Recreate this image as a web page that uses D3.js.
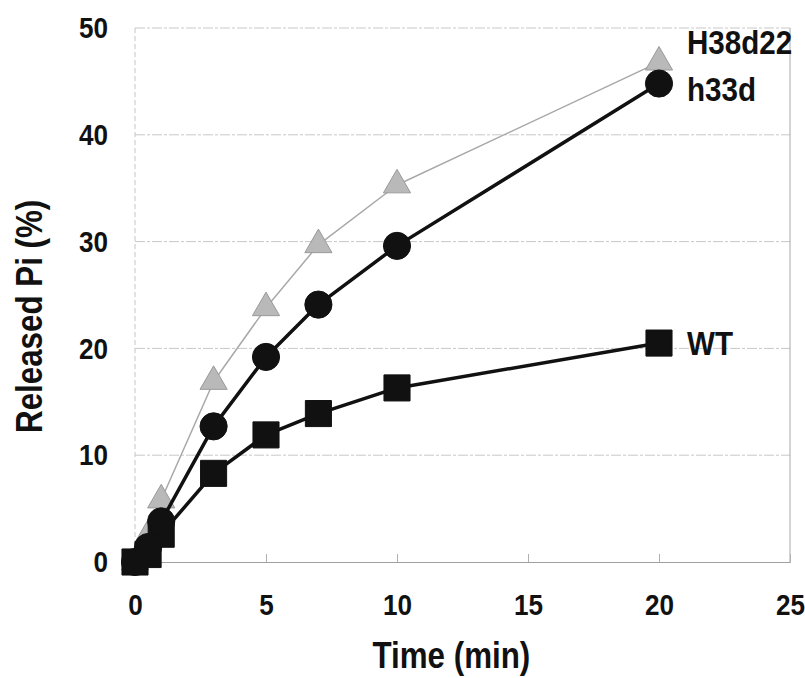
<!DOCTYPE html>
<html>
<head>
<meta charset="utf-8">
<script src="https://cdn.jsdelivr.net/npm/d3@7"></script>
<style>
  html, body { margin: 0; padding: 0; background: #fff; }
  svg { display: block; }
  text { font-family: "Liberation Sans", Arial, sans-serif; font-weight: bold; fill: #111; }
</style>
</head>
<body>
<svg id="chart" width="805" height="678"></svg>
<script>
// ---- data ----
const times = [0, 0.5, 1, 3, 5, 7, 10, 20];
const h38d22 = [0, 2.5, 5.8, 16.9, 23.8, 29.7, 35.3, 46.8];
const h33d = [0, 1.4, 3.8, 12.7, 19.2, 24.1, 29.6, 44.8];
const wt = [0, 0.7, 2.6, 8.3, 11.9, 13.9, 16.3, 20.5];
const seriesNames = ["H38d22", "h33d", "WT"];
const xTicks = [0, 5, 10, 15, 20, 25];
const yTicks = [0, 10, 20, 30, 40, 50];
const xTitle = "Time (min)";
const yTitle = "Released Pi (%)";

// ---- layout ----
const W = 805, H = 678;
const margin = { top: 28, right: 15, bottom: 116, left: 135 };
const iw = W - margin.left - margin.right;
const ih = H - margin.top - margin.bottom;
const K = 0.87; // horizontal condensing of the typeface

const svg = d3.select("#chart");
const g = svg.append("g").attr("transform", `translate(${margin.left},${margin.top})`);

const x = d3.scaleLinear().domain([0, 25]).range([0, iw]);
const y = d3.scaleLinear().domain([0, 50]).range([ih, 0]);

function condense(sel, k) {
  sel.each(function () {
    const t = d3.select(this);
    const tx = +t.attr("x") || 0, ty = +t.attr("y") || 0;
    t.attr("x", 0).attr("y", 0).attr("transform", `translate(${tx},${ty}) scale(${k},1)`);
  });
}

// gridlines
g.append("g").selectAll("line")
  .data(yTicks.filter(d => d > 0))
  .join("line")
  .attr("x1", 0).attr("x2", iw)
  .attr("y1", d => y(d)).attr("y2", d => y(d))
  .attr("stroke", "#c8c8c8").attr("stroke-width", 1)
  .attr("stroke-dasharray", "10,2,3,2");

// left frame (dashed light)
g.append("line").attr("x1", 0).attr("x2", 0).attr("y1", 0).attr("y2", ih)
  .attr("stroke", "#c4c4c4").attr("stroke-dasharray", "5,3");
// right frame
g.append("line").attr("x1", iw).attr("x2", iw).attr("y1", 0).attr("y2", ih)
  .attr("stroke", "#a8a8a8");

// x axis
const xAxis = g.append("g").attr("transform", `translate(0,${ih})`)
  .call(d3.axisBottom(x).tickValues(xTicks).tickFormat(d3.format("d")).tickSize(-8).tickPadding(32));
xAxis.select(".domain").attr("stroke", "#a0a0a0");
xAxis.selectAll(".tick line").attr("stroke", "#b0b0b0");
xAxis.selectAll(".tick text").attr("font-size", 30).attr("font-family", "Liberation Sans, Arial, sans-serif").attr("font-weight", "bold").attr("fill", "#111");
condense(xAxis.selectAll(".tick text"), K);

// y axis
const yAxis = g.append("g")
  .call(d3.axisLeft(y).tickValues(yTicks).tickFormat(d3.format("d")).tickSize(0).tickPadding(27));
yAxis.select(".domain").remove();
yAxis.selectAll(".tick text").attr("font-size", 30).attr("font-family", "Liberation Sans, Arial, sans-serif").attr("font-weight", "bold").attr("fill", "#111");
condense(yAxis.selectAll(".tick text"), K);

// axis titles
svg.append("text")
  .attr("transform", `translate(${margin.left + iw * 0.483},${H - 10}) scale(${K},1)`)
  .attr("text-anchor", "middle").attr("font-size", 36)
  .text(xTitle);
svg.append("text")
  .attr("transform", `translate(42,${margin.top + ih * 0.54}) rotate(-90) scale(${K},1)`)
  .attr("text-anchor", "middle").attr("font-size", 36)
  .text(yTitle);

// series
const series = [
  { name: seriesNames[0], values: h38d22, symbol: d3.symbolTriangle, size: 320, fill: "#b9b9b9", stroke: "#9a9a9a", line: "#a8a8a8", lw: 1.5, dy: -20 },
  { name: seriesNames[2], values: wt, symbol: d3.symbolSquare, size: 680, fill: "#111", stroke: "#111", line: "#111", lw: 3.5, dy: 0 },
  { name: seriesNames[1], values: h33d, symbol: d3.symbolCircle, size: 580, fill: "#111", stroke: "#111", line: "#111", lw: 3.5, dy: 5 }
];

const lineGen = d3.line().x((d, i) => x(times[i])).y(d => y(d));

series.forEach(s => {
  const sg = g.append("g");
  sg.append("path").datum(s.values)
    .attr("d", lineGen)
    .attr("fill", "none").attr("stroke", s.line).attr("stroke-width", s.lw)
    .attr("stroke-linejoin", "round");
  sg.selectAll("path.pt").data(s.values).join("path")
    .attr("class", "pt")
    .attr("transform", (d, i) => `translate(${x(times[i])},${y(d)})`)
    .attr("d", d3.symbol().type(s.symbol).size(s.size))
    .attr("fill", s.fill).attr("stroke", s.stroke).attr("stroke-width", 1);
});

// series labels at last point
series.forEach(s => {
  const last = s.values.length - 1;
  svg.append("text")
    .attr("transform", `translate(${margin.left + x(times[last]) + 28},${margin.top + y(s.values[last]) + s.dy}) scale(${K},1)`)
    .attr("dy", "0.36em")
    .attr("font-size", 34)
    .text(s.name);
});
</script>
</body>
</html>
